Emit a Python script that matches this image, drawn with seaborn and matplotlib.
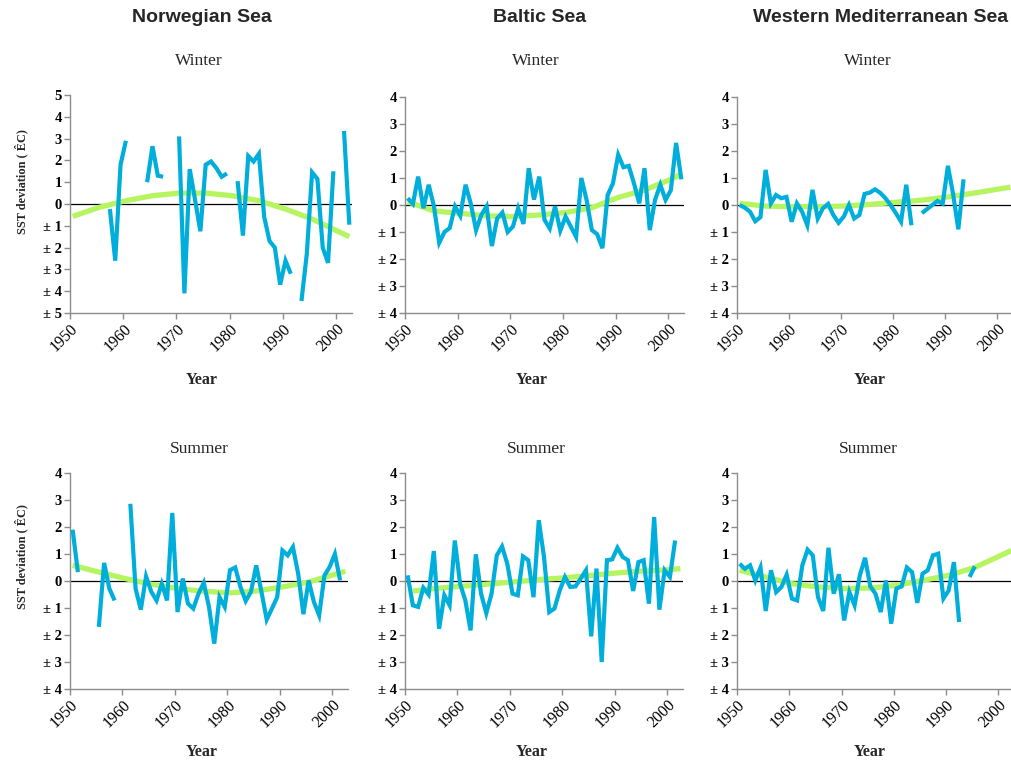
import numpy as np
import pandas as pd
import matplotlib
matplotlib.use("Agg")
import matplotlib.pyplot as plt
import seaborn as sns

nan = np.nan

# ---------------- data ----------------
years = list(range(1950, 2003))  # 53 categories 1950..2002

norw_winter = [nan, nan, nan, nan, nan, nan, nan,
               -0.23, -2.6, 1.8, 2.9,
               nan, nan, nan,
               1.0, 2.65, 1.3, 1.25,
               nan, nan,
               3.1, -4.1, 1.6, 0.2, -1.25, 1.8, 1.95, 1.65, 1.25, 1.4,
               nan,
               1.05, -1.45, 2.2, 1.95, 2.3, -0.6, -1.7, -2.0, -3.7, -2.6, -3.2,
               nan,
               -4.45, -2.3, 1.45, 1.15, -2.0, -2.7, 1.5,
               nan,
               3.35, -0.95]

baltic_winter = [0.25, 0.04, 1.05, -0.12, 0.75, -0.05, -1.4, -1.0, -0.85, -0.05,
                 -0.4, 0.75, 0.05, -0.93, -0.37, -0.05, -1.52, -0.5, -0.28, -1.0,
                 -0.8, -0.12, -0.7, 1.36, 0.2, 1.05, -0.55, -0.87, -0.05, -0.95,
                 -0.43, -0.8, -1.18, 1.0, 0.18, -0.93, -1.08, -1.6, 0.37, 0.8,
                 1.86, 1.4, 1.45, 0.8, 0.06, 1.36, -0.93, 0.19, 0.75, 0.19,
                 0.55, 2.3, 0.95]

wmed_winter = [0.0, -0.1, -0.25, -0.6, -0.45, 1.3, 0.06, 0.37, 0.25, 0.3,
               -0.62, 0.06, -0.25, -0.75, 0.56, -0.5, -0.12, 0.04, -0.37, -0.66,
               -0.43, 0.0, -0.5, -0.37, 0.41, 0.46, 0.58, 0.45, 0.25, 0.0,
               -0.3, -0.62, 0.75, -0.75, nan, -0.3, -0.15, 0.0, 0.15, 0.05,
               1.45, 0.4, -0.9, 0.95, nan, nan, nan, nan, nan, nan,
               nan, nan, nan]

norw_summer = [1.9, 0.33, nan, nan, nan, -1.7, 0.67, -0.28, -0.72, nan,
               nan, 2.86, -0.28, -1.06, 0.17, -0.4, -0.72, -0.1, -0.72, 2.52,
               -1.15, 0.09, -0.84, -1.02, -0.47, -0.07, -0.96, -2.32, -0.6, -0.96,
               0.4, 0.5, -0.22, -0.74, -0.4, 0.58, -0.4, -1.43, -1.02, -0.6,
               1.13, 0.95, 1.26, 0.27, -1.23, 0.02, -0.78, -1.27, 0.2, 0.52,
               1.0, 0.02, nan]

baltic_summer = [0.21, -0.9, -0.96, -0.25, -0.5, 1.11, -1.77, -0.53, -0.9, 1.5,
                 -0.1, -0.72, -1.83, 0.99, -0.47, -1.19, -0.47, 0.95, 1.28, 0.64,
                 -0.47, -0.53, 0.91, 0.77, -0.6, 2.25, 0.89, -1.15, -1.02, -0.35,
                 0.15, -0.22, -0.2, 0.09, 0.4, -2.05, 0.46, -3.0, 0.77, 0.8,
                 1.23, 0.89, 0.77, -0.37, 0.7, 0.77, -0.84, 2.37, -1.06, 0.4,
                 0.15, 1.5, nan]

wmed_summer = [0.64, 0.45, 0.58, 0.02, 0.5, -1.11, 0.4, -0.41, -0.22, 0.23,
               -0.65, -0.72, 0.58, 1.16, 0.95, -0.6, -1.11, 1.23, -0.47, 0.25,
               -1.46, -0.41, -0.9, 0.21, 0.86, -0.2, -0.47, -1.15, 0.02, -1.58,
               -0.28, -0.2, 0.5, 0.33, -0.81, 0.27, 0.4, 0.95, 1.01, -0.65,
               -0.35, 0.7, -1.52, nan, 0.15, 0.54, nan, nan, nan, nan,
               nan, nan, nan]

# trend curves (read at a few years)
trend_years = [1950, 1955, 1960, 1965, 1970, 1975, 1980, 1985, 1990, 1995, 2000, 2002]
norw_winter_trend = [-0.57, -0.15, 0.15, 0.38, 0.5, 0.5, 0.38, 0.15, -0.23, -0.69, -1.27, -1.5]
baltic_winter_trend = [0.12, -0.22, -0.31, -0.4, -0.43, -0.37, -0.28, -0.1, 0.28, 0.55, 0.95, 1.15]
wmed_winter_trend = [0.06, -0.04, -0.06, -0.06, -0.04, 0.02, 0.1, 0.18, 0.3, 0.44, 0.6, 0.66]
norw_summer_trend = [0.58, 0.33, 0.09, -0.12, -0.28, -0.38, -0.44, -0.37, -0.22, -0.04, 0.25, 0.36]
baltic_summer_trend_years = [1951, 1955, 1960, 1965, 1970, 1975, 1980, 1985, 1990, 1995, 2000, 2002]
baltic_summer_trend = [-0.37, -0.28, -0.2, -0.12, -0.04, 0.05, 0.12, 0.21, 0.3, 0.37, 0.42, 0.46]
wmed_summer_trend = [0.4, 0.15, -0.1, -0.22, -0.28, -0.26, -0.16, 0.02, 0.21, 0.5, 0.95, 1.13]

col_titles = ["Norwegian Sea", "Baltic Sea", "Western Mediterranean Sea"]
season_titles = ["Winter", "Summer"]
xtick_years = [1950, 1960, 1970, 1980, 1990, 2000]
ylabel_text = "SST deviation ( \u00caC)"
xlabel_text = "Year"

# ---------------- style ----------------
sns.set_theme(style="white")
plt.rcParams["font.family"] = ["Liberation Serif", "DejaVu Serif"]

W, H = 1012, 763
fig = plt.figure(figsize=(W / 100, H / 100), dpi=100)
fig.patch.set_facecolor("white")

BLUE = "#00AEDC"
GREEN = "#B6F460"
GRAY = "#8C8C8C"


def px_axes(x0, x1, y0, y1):
    return fig.add_axes([x0 / W, 1 - y1 / H, (x1 - x0) / W, (y1 - y0) / H])


def ftext(x, y, s, **kw):
    fig.text(x / W, 1 - y / H, s, **kw)


def ylab(v):
    v = int(v)
    if v < 0:
        return "\u00b1 %d" % (-v)
    return "%d" % v


panels = [
    # (values, trend_years, trend_values, axes px box, ylim)
    (norw_winter, trend_years, norw_winter_trend, (70, 352, 95, 313), 5),
    (baltic_winter, trend_years, baltic_winter_trend, (405, 684, 97, 313), 4),
    (wmed_winter, trend_years, wmed_winter_trend, (737, 1013, 97, 313), 4),
    (norw_summer, trend_years, norw_summer_trend, (70, 348, 473, 689), 4),
    (baltic_summer, baltic_summer_trend_years, baltic_summer_trend, (405, 683, 473, 689), 4),
    (wmed_summer, trend_years, wmed_summer_trend, (737, 1014, 473, 689), 4),
]

for i, (vals, tyrs, tvals, box, lim) in enumerate(panels):
    ax = px_axes(*box)
    ax.set_facecolor("white")
    df = pd.DataFrame({"year": years, "val": vals})
    df["seg"] = df["val"].isna().cumsum()
    df = df.dropna()
    df["pos"] = df["year"] + 0.5
    tdf = pd.DataFrame({"year": tyrs, "val": tvals})
    tdf["pos"] = tdf["year"] + 0.5

    ax.axhline(0, color="black", lw=0.9, zorder=1)
    sns.lineplot(data=tdf, x="pos", y="val", color=GREEN, linewidth=3.8,
                 ax=ax, legend=False, zorder=2, solid_capstyle="butt")
    sns.lineplot(data=df, x="pos", y="val", units="seg", estimator=None,
                 color=BLUE, linewidth=3.0, ax=ax, legend=False, zorder=3,
                 solid_joinstyle="miter", solid_capstyle="butt", sort=True)

    ax.set_xlim(1950, 2003)
    ax.set_ylim(-lim, lim)
    yt = list(range(-lim, lim + 1))
    ax.set_yticks(yt)
    ax.set_yticklabels([ylab(v) for v in yt], fontsize=10.5, fontweight="bold")
    ax.set_xticks(xtick_years)
    ax.set_xticklabels([str(y) for y in xtick_years], fontsize=11.5, rotation=45,
                       ha="right", va="top", rotation_mode="anchor")
    ax.set_xlabel("")
    ax.set_ylabel("")
    for s in ["top", "right"]:
        ax.spines[s].set_visible(False)
    for s in ["left", "bottom"]:
        ax.spines[s].set_visible(True)
        ax.spines[s].set_color(GRAY)
        ax.spines[s].set_linewidth(1.0)
    ax.tick_params(axis="both", which="major", direction="out", length=4,
                   width=1, color=GRAY, labelcolor="black", left=True, bottom=True)
    ax.tick_params(axis="y", pad=2)
    ax.tick_params(axis="x", pad=2)
    ax.grid(False)

# text
col_x = [202, 540, 881]
sub_x = [199, 536, 868]
year_x = [202, 532, 870]
for c in range(3):
    ftext(col_x[c], 18, col_titles[c], ha="center", va="center",
          family="Liberation Sans", fontweight="bold", fontsize=14)
    ftext(sub_x[c], 61, season_titles[0], ha="center", va="center", fontsize=12.5)
    ftext(sub_x[c], 449, season_titles[1], ha="center", va="center", fontsize=12.5)
    ftext(year_x[c], 380, xlabel_text, ha="center", va="center", fontsize=11.5,
          fontweight="bold")
    ftext(year_x[c], 752, xlabel_text, ha="center", va="center", fontsize=11.5,
          fontweight="bold")

ftext(21, 182, ylabel_text, ha="center", va="center", rotation=90,
      fontsize=8.8, fontweight="bold")
ftext(21, 557, ylabel_text, ha="center", va="center", rotation=90,
      fontsize=8.8, fontweight="bold")

fig.savefig("out.png", dpi=100, facecolor="white")
